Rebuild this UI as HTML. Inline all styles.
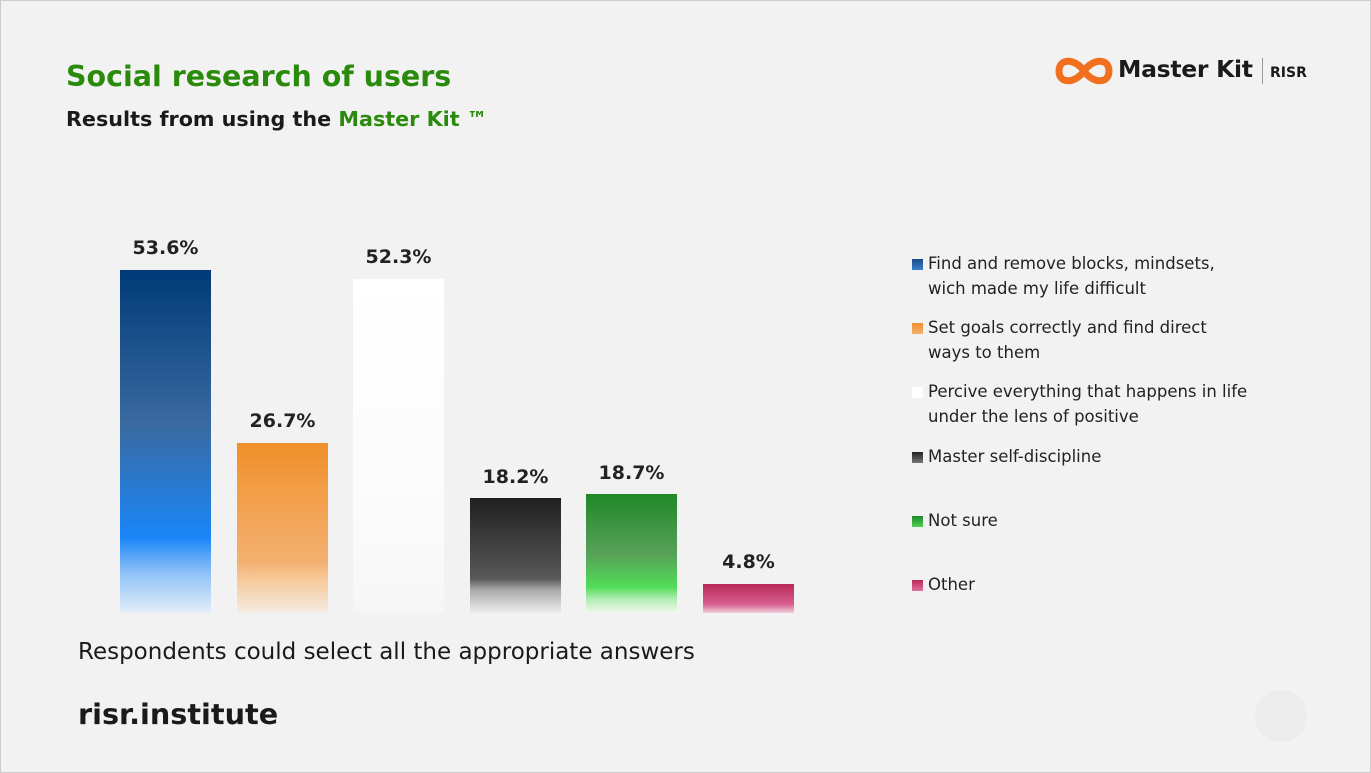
<!DOCTYPE html>
<html><head><meta charset="utf-8"><style>
body{margin:0;width:1371px;height:773px;background:#f2f2f2;position:relative;overflow:hidden;font-family:"DejaVu Sans","Liberation Sans",sans-serif;color:#222}
.a{position:absolute}
.bar{position:absolute;width:91px;bottom:160px}
.lbl{position:absolute;width:91px;text-align:center;font-weight:bold;font-size:19px;color:#222}
.lg{position:absolute;left:928px;font-size:16.5px;line-height:25px;color:#222}
.sw{position:absolute;left:912px;width:11px;height:11px}
</style></head><body>
<div class="a" style="left:0;top:0;width:1369px;height:771px;border:1px solid #ccc"></div>
<div class="a" style="left:66px;top:60px;font-size:28.5px;font-weight:bold;color:#2a8a0c">Social research of users</div>
<div class="a" style="left:66px;top:107px;font-size:20.7px;font-weight:bold;color:#1a1a1a">Results from using the <span style="color:#2a8a0c">Master Kit ™</span></div>
<svg class="a" style="left:1055px;top:54px" width="58" height="34" viewBox="0 0 58 34"><path d="M29 17 C20 4 4 4 4 17 C4 30 20 30 29 17 C38 4 54 4 54 17 C54 30 38 30 29 17" fill="none" stroke="#f07020" stroke-width="7"/></svg>
<div class="a" style="left:1118px;top:55px;font-size:23.5px;font-weight:bold;color:#1a1a1a;letter-spacing:-0.3px">Master Kit</div>
<div class="a" style="left:1262px;top:58px;width:1px;height:26px;background:#999"></div>
<div class="a" style="left:1270px;top:65px;font-size:14px;font-weight:bold;color:#1a1a1a">RISR</div>

<div class="bar" style="left:120px;top:270px;background:linear-gradient(#003a78,#3a6aa0 45%,#1a86f8 78%,#8cc0f8 88%,#e4eef8)"></div>
<div class="bar" style="left:237px;top:443px;background:linear-gradient(#f0902a,#f4b070 70%,#f6c898 80%,#f4ece4)"></div>
<div class="bar" style="left:353px;top:279px;background:linear-gradient(#fff,#fbfbfb 70%,#f6f6f6)"></div>
<div class="bar" style="left:470px;top:498px;background:linear-gradient(#202020,#585858 70%,#aaa 80%,#eee)"></div>
<div class="bar" style="left:586px;top:494px;background:linear-gradient(#208828,#58a058 50%,#50dc58 78%,#b0ecb0 88%,#f0f8f0)"></div>
<div class="bar" style="left:703px;top:584px;background:linear-gradient(#b82a58,#d86090 70%,#f0d0dc)"></div>

<div class="lbl" style="left:120px;top:237px">53.6%</div>
<div class="lbl" style="left:237px;top:410px">26.7%</div>
<div class="lbl" style="left:353px;top:246px">52.3%</div>
<div class="lbl" style="left:470px;top:466px">18.2%</div>
<div class="lbl" style="left:586px;top:462px">18.7%</div>
<div class="lbl" style="left:703px;top:551px">4.8%</div>

<div class="sw" style="top:259px;background:linear-gradient(#1a4a88,#3a80d0)"></div>
<div class="lg" style="top:251px">Find and remove blocks, mindsets,<br>wich made my life difficult</div>
<div class="sw" style="top:323px;background:linear-gradient(#f09030,#f4b070)"></div>
<div class="lg" style="top:315px">Set goals correctly and find direct<br>ways to them</div>
<div class="sw" style="top:387px;background:#fff"></div>
<div class="lg" style="top:379px">Percive everything that happens in life<br>under the lens of positive</div>
<div class="sw" style="top:452px;background:linear-gradient(#222,#777)"></div>
<div class="lg" style="top:444px">Master self-discipline</div>
<div class="sw" style="top:516px;background:linear-gradient(#208828,#50d058)"></div>
<div class="lg" style="top:508px">Not sure</div>
<div class="sw" style="top:580px;background:linear-gradient(#b82a58,#e070a0)"></div>
<div class="lg" style="top:572px">Other</div>

<div class="a" style="left:78px;top:639px;font-size:23px;color:#1a1a1a">Respondents could select all the appropriate answers</div>
<div class="a" style="left:78px;top:697px;font-size:28.7px;font-weight:bold;color:#1a1a1a">risr.institute</div>
<div class="a" style="left:1255px;top:690px;width:52px;height:52px;border-radius:50%;background:#ececec"></div>
</body></html>
